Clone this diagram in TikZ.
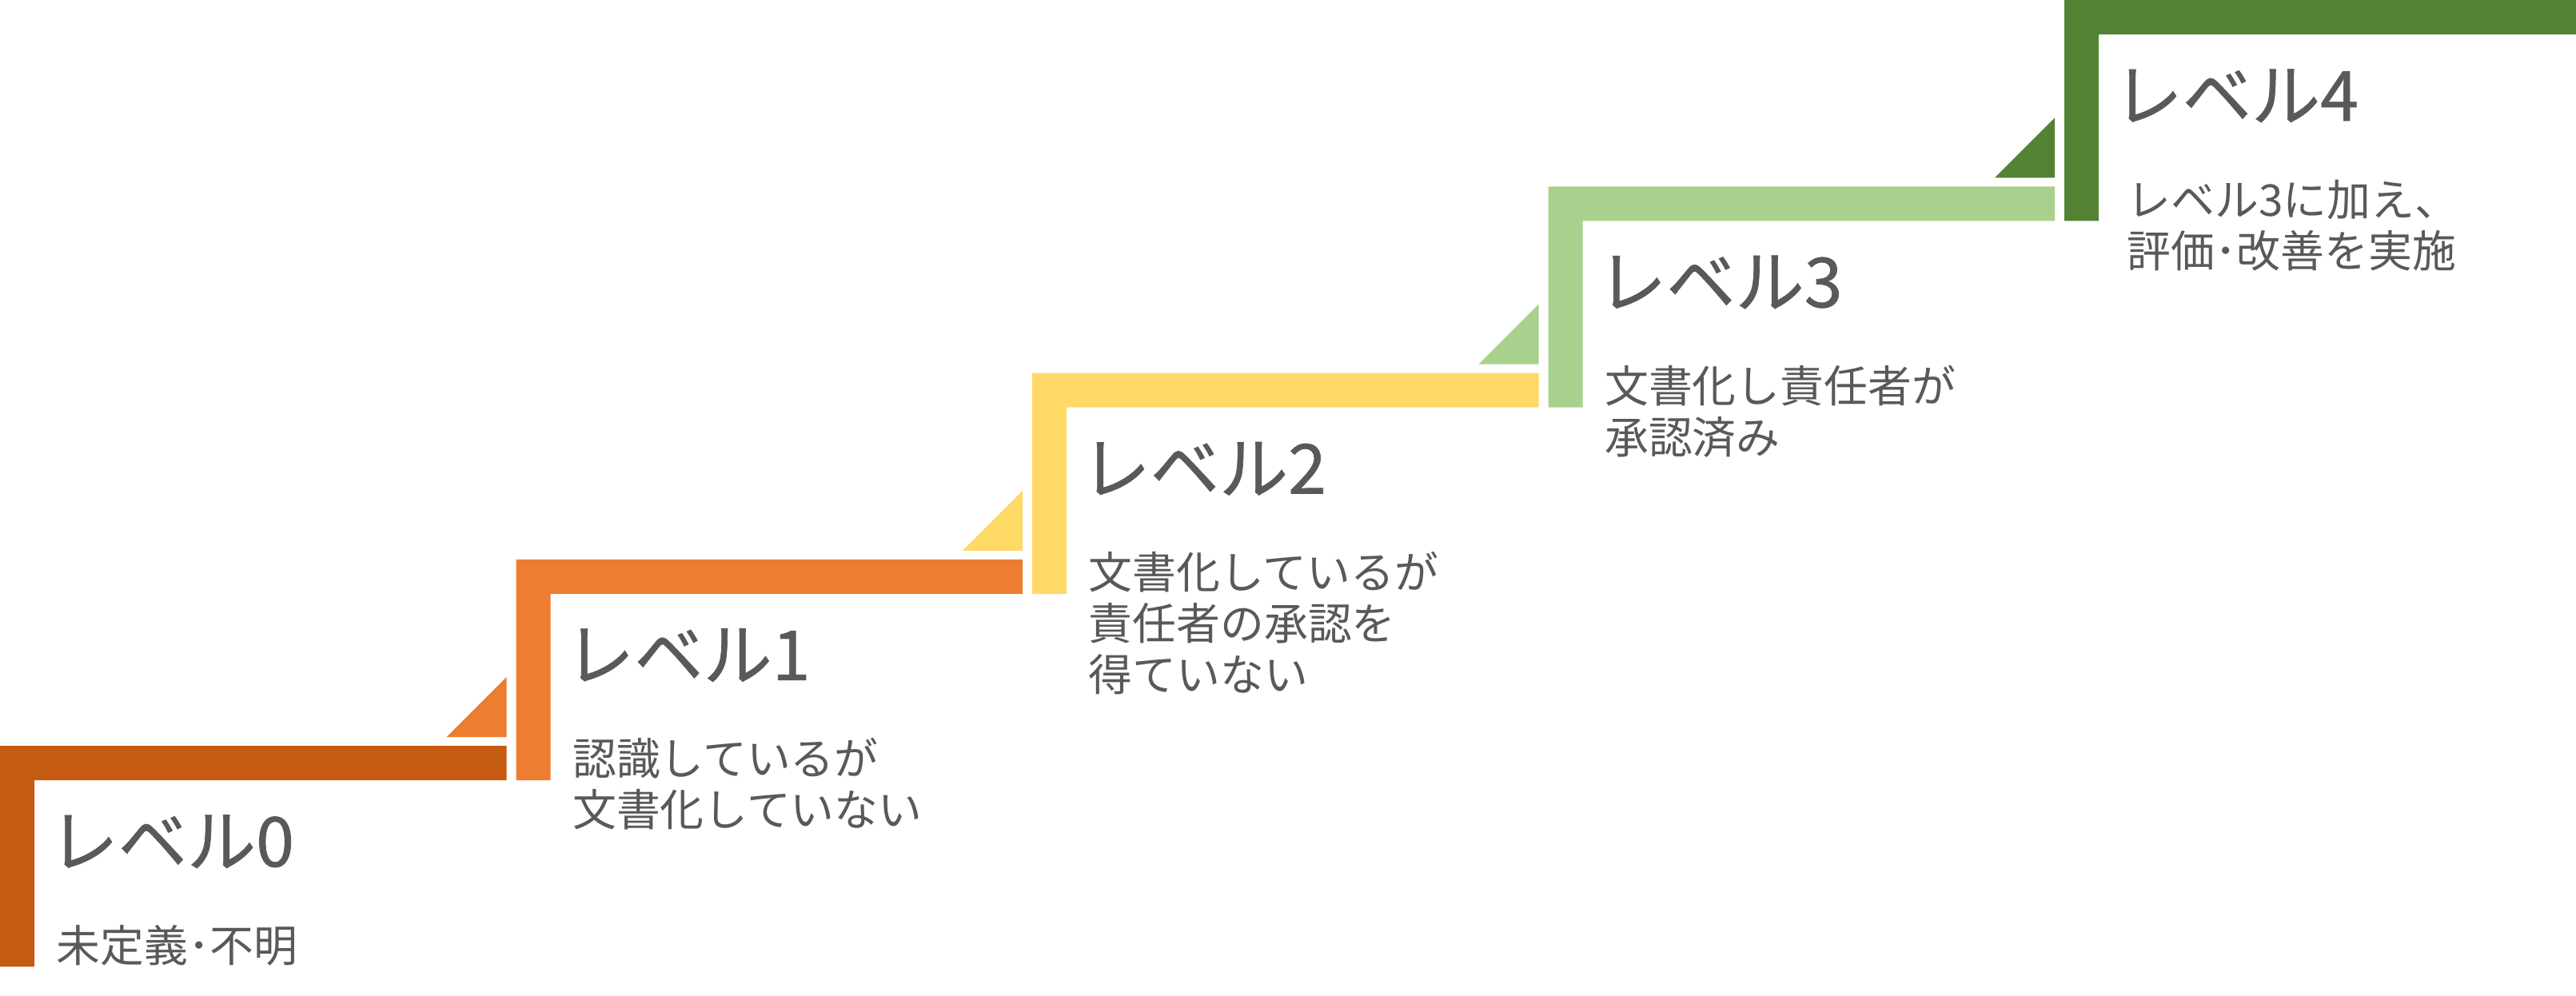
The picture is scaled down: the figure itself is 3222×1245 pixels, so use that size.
\documentclass[tikz,border=0pt]{standalone}
\usepackage{fontspec}
\setmainfont{Noto Sans CJK JP}
\newfontfamily\ttlfont[FakeBold=0.8]{Noto Sans CJK JP}
\definecolor{lvzero}{HTML}{C55A11}
\definecolor{lvone}{HTML}{ED7D31}
\definecolor{lvtwo}{HTML}{FFD966}
\definecolor{lvthree}{HTML}{A9D18E}
\definecolor{lvfour}{HTML}{548235}
\definecolor{txtgray}{HTML}{595959}
\tikzset{
  stepttl/.style={anchor=base west, inner sep=0pt, text=txtgray, font=\ttlfont\fontsize{24.5}{30}\selectfont},
  stepdesc/.style={anchor=base west, inner sep=0pt, text=txtgray, font=\fontsize{15.6}{18}\selectfont},
}
\begin{document}
\begin{tikzpicture}[x=0.01cm,y=-0.01cm]
\useasboundingbox (0,0) rectangle (3222,1245);
% L-shaped steps
\fill[lvzero]  (0,1209.25) -- (0,933) -- (633.5,933) -- (633.5,976) -- (43,976) -- (43,1209.25) -- cycle;
\fill[lvone]   (645.5,976) -- (645.5,699.75) -- (1279,699.75) -- (1279,742.75) -- (688.5,742.75) -- (688.5,976) -- cycle;
\fill[lvtwo]   (1291,742.75) -- (1291,466.5) -- (1924.5,466.5) -- (1924.5,509.5) -- (1334,509.5) -- (1334,742.75) -- cycle;
\fill[lvthree] (1936.5,509.5) -- (1936.5,233.25) -- (2570,233.25) -- (2570,276.25) -- (1979.5,276.25) -- (1979.5,509.5) -- cycle;
\fill[lvfour]  (2582,276.25) -- (2582,0) -- (3222,0) -- (3222,43) -- (2625,43) -- (2625,276.25) -- cycle;
% triangles
\fill[lvone]   (633.5,922) -- (558.5,922) -- (633.5,847) -- cycle;
\fill[lvtwo]   (1279,688.75) -- (1204,688.75) -- (1279,613.75) -- cycle;
\fill[lvthree] (1924.5,455.5) -- (1849.5,455.5) -- (1924.5,380.5) -- cycle;
\fill[lvfour]  (2570,222.25) -- (2495,222.25) -- (2570,147.25) -- cycle;
% texts
\node[stepttl] (t0) at (61,1084) {レベル0};
\node[stepdesc] (d0a) at (70,1203) {未定義･不明};
\node[stepttl] (t1) at (706.5,850.75) {レベル1};
\node[stepdesc] (d1a) at (715.5,969.75) {認識しているが};
\node[stepdesc] (d1b) at (715.5,1033.75) {文書化していない};
\node[stepttl] (t2) at (1352,617.5) {レベル2};
\node[stepdesc] (d2a) at (1361,736.5) {文書化しているが};
\node[stepdesc] (d2b) at (1361,800.5) {責任者の承認を};
\node[stepdesc] (d2c) at (1361,864.5) {得ていない};
\node[stepttl] (t3) at (1997.5,384.25) {レベル3};
\node[stepdesc] (d3a) at (2006.5,503.25) {文書化し責任者が};
\node[stepdesc] (d3b) at (2006.5,567.25) {承認済み};
\node[stepttl] (t4) at (2643,151) {レベル4};
\node[stepdesc] (d4a) at (2660,270) {レベル3に加え、};
\node[stepdesc] (d4b) at (2660,334) {評価･改善を実施};
\end{tikzpicture}
\end{document}
